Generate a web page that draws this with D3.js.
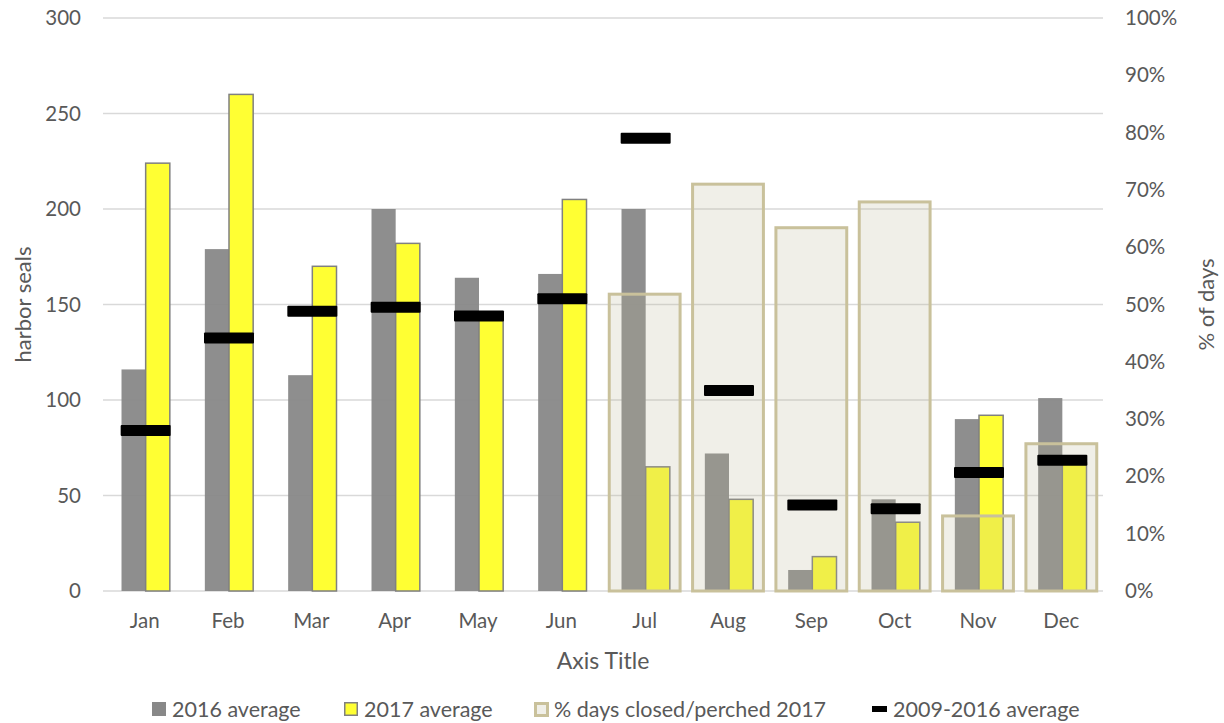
<!DOCTYPE html>
<html>
<head>
<meta charset="utf-8">
<script src="https://cdn.jsdelivr.net/npm/d3@7/dist/d3.min.js"></script>
<style>
  html, body { margin: 0; padding: 0; background: #ffffff; }
  svg { display: block; font-family: Lato, "Open Sans", sans-serif; }
</style>
</head>
<body>
<svg id="chart" width="1224" height="723"></svg>
<script>
const months = ["Jan","Feb","Mar","Apr","May","Jun","Jul","Aug","Sep","Oct","Nov","Dec"];
const avg2016 = [116, 179, 113, 200, 164, 166, 200, 72, 11, 48, 90, 101];
const avg2017 = [224, 260, 170, 182, 145, 205, 65, 48, 18, 36, 92, 67];
const pctClosed2017 = [null, null, null, null, null, null, 51.8, 71.0, 63.4, 67.9, 13.1, 25.7];
const avg2009_2016 = [84, 132.5, 146.5, 148.5, 144, 153, 237, 105, 45, 43, 62, 68.5];
const leftTicks = [0, 50, 100, 150, 200, 250, 300];
const rightTicks = [0, 10, 20, 30, 40, 50, 60, 70, 80, 90, 100];
const legendLabels = ["2016 average", "2017 average", "% days closed/perched 2017", "2009-2016 average"];

const svg = d3.select("#chart");
const plot = { left: 103, right: 1103, top: 18, bottom: 591 };
const textColor = "#595959";

const x = d3.scaleBand().domain(months).range([plot.left, plot.right]).padding(0);
const y = d3.scaleLinear().domain([0, 300]).range([plot.bottom, plot.top]);
const y2 = d3.scaleLinear().domain([0, 100]).range([plot.bottom, plot.top]);

// gridlines
svg.append("g").selectAll("line").data(leftTicks).join("line")
  .attr("x1", plot.left).attr("x2", plot.right)
  .attr("y1", d => y(d)).attr("y2", d => y(d))
  .attr("stroke", "#d9d9d9").attr("stroke-width", 1.5);

// left axis labels
const leftAxis = d3.axisLeft(y).tickValues(leftTicks).tickSize(0).tickPadding(22);
const gl = svg.append("g").attr("transform", `translate(${plot.left},0)`).call(leftAxis);
gl.select(".domain").remove();
gl.selectAll("text").attr("fill", textColor).style("font-size", "20.5px").style("font-family", "Lato, sans-serif");

// right axis labels
const rightAxis = d3.axisRight(y2).tickValues(rightTicks).tickSize(0).tickPadding(22).tickFormat(d => d + "%");
const gr = svg.append("g").attr("transform", `translate(${plot.right},0)`).call(rightAxis);
gr.select(".domain").remove();
gr.selectAll("text").attr("fill", textColor).style("font-size", "20.5px").style("font-family", "Lato, sans-serif");

// bottom axis labels
const bottomAxis = d3.axisBottom(x).tickSize(0).tickPadding(22);
const gb = svg.append("g").attr("transform", `translate(0,${plot.bottom})`).call(bottomAxis);
gb.select(".domain").remove();
gb.selectAll("text").attr("fill", textColor).style("font-size", "20.5px").style("font-family", "Lato, sans-serif");

const bw = x.bandwidth();
const barW = bw * 0.29;

// 2016 bars
svg.append("g").selectAll("rect").data(months).join("rect")
  .attr("x", (m) => x(m) + bw / 2 - barW + 1)
  .attr("width", barW)
  .attr("y", (m, i) => y(avg2016[i]))
  .attr("height", (m, i) => y(0) - y(avg2016[i]))
  .attr("fill", "#888888").attr("fill-opacity", 0.95);

// 2017 bars
svg.append("g").selectAll("rect").data(months).join("rect")
  .attr("x", (m) => x(m) + bw / 2 + 1)
  .attr("width", barW)
  .attr("y", (m, i) => y(avg2017[i]))
  .attr("height", (m, i) => y(0) - y(avg2017[i]))
  .attr("fill", "#ffff33").attr("stroke", "#808080").attr("stroke-width", 1.5);

// % days closed bars (right axis)
const pW = bw * 0.85;
const pctData = months.map((m, i) => ({ m, v: pctClosed2017[i] })).filter(d => d.v != null);
svg.append("g").selectAll("rect").data(pctData).join("rect")
  .attr("x", d => x(d.m) + (bw - pW) / 2)
  .attr("width", pW)
  .attr("y", d => y2(d.v))
  .attr("height", d => y2(0) - y2(d.v))
  .attr("fill", "rgb(188,182,148)").attr("fill-opacity", 0.22)
  .attr("stroke", "#c9c19b").attr("stroke-width", 3);

// 2009-2016 average markers
const mW = bw * 0.6, mH = 11;
svg.append("g").selectAll("rect").data(months).join("rect")
  .attr("x", m => x(m) + (bw - mW) / 2 + 1)
  .attr("width", mW)
  .attr("y", (m, i) => y(avg2009_2016[i]) - mH / 2)
  .attr("height", mH)
  .attr("rx", 1)
  .attr("fill", "#000000");

// axis titles
svg.append("text").attr("x", (plot.left + plot.right) / 2).attr("y", 660)
  .attr("text-anchor", "middle").attr("dominant-baseline", "central")
  .attr("fill", textColor).style("font-size", "23px").text("Axis Title");
svg.append("text").attr("transform", `translate(22,${(plot.top + plot.bottom) / 2}) rotate(-90)`)
  .attr("text-anchor", "middle").attr("dominant-baseline", "central")
  .attr("fill", textColor).style("font-size", "22px").text("harbor seals");
svg.append("text").attr("transform", `translate(1205,${(plot.top + plot.bottom) / 2}) rotate(-90)`)
  .attr("text-anchor", "middle").attr("dominant-baseline", "central")
  .attr("fill", textColor).style("font-size", "22px").text("% of days");

// legend
const legY = 709;
const legX = [152, 344, 534, 872];
const lg = svg.append("g");
legendLabels.forEach((lab, i) => {
  const g = lg.append("g").attr("transform", `translate(${legX[i]},${legY})`);
  if (i === 0) {
    g.append("rect").attr("x", 0).attr("y", -7).attr("width", 14).attr("height", 14).attr("fill", "#888888");
  } else if (i === 1) {
    g.append("rect").attr("x", 0.75).attr("y", -6.25).attr("width", 12.5).attr("height", 12.5)
      .attr("fill", "#ffff33").attr("stroke", "#808080").attr("stroke-width", 1.5);
  } else if (i === 2) {
    g.append("rect").attr("x", 1.5).attr("y", -5.5).attr("width", 12).attr("height", 12)
      .attr("fill", "#f0efe8").attr("stroke", "#c9c19b").attr("stroke-width", 3);
  } else {
    g.append("rect").attr("x", 0).attr("y", -3).attr("width", 15).attr("height", 6).attr("fill", "#000");
  }
  g.append("text").attr("x", i === 3 ? 21 : 20).attr("y", 0).attr("dominant-baseline", "central")
    .attr("fill", textColor).style("font-size", "21.5px").text(lab);
});
</script>
</body>
</html>
